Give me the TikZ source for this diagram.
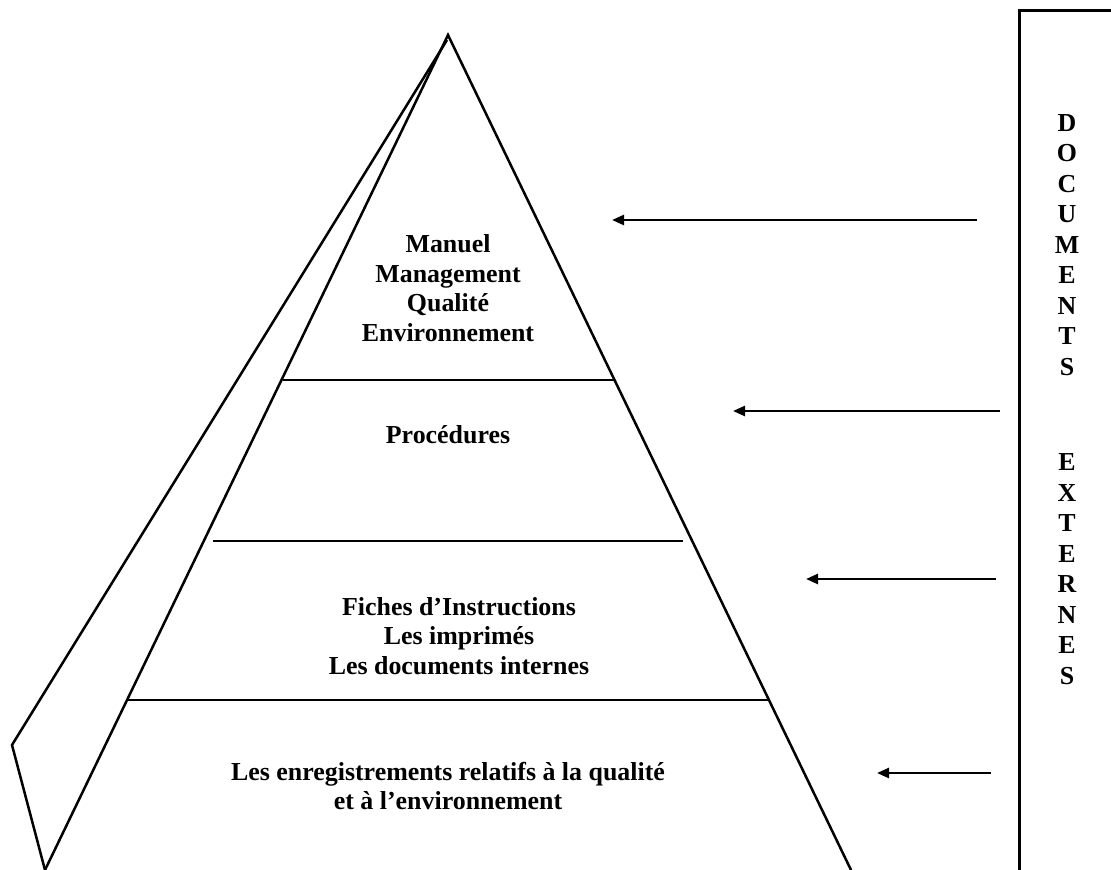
\documentclass[tikz,border=0pt]{standalone}
\usepackage{fontspec}
\setmainfont{Liberation Serif}
\usetikzlibrary{arrows.meta}
\tikzset{
  edge/.style={line width=2.5pt, line join=miter},
  arr/.style={line width=2.5pt, -{Triangle[length=12pt,width=10pt]}},
  lbl/.style={font=\fontsize{25.9}{29.5}\selectfont\bfseries, align=center, inner sep=0pt},
  vlet/.style={font=\fontsize{25.9}{30.5}\selectfont\bfseries, align=center, inner sep=0pt},
}
\begin{document}
\begin{tikzpicture}[x=1pt,y=-1pt]
\useasboundingbox (0,0) rectangle (1111,870);
\clip (0,0) rectangle (1111,870);
% pyramid
\coordinate (apex) at (448,35);
\coordinate (bl) at (45,870);
\coordinate (br) at (851,870);
\coordinate (foldtop) at (447,40);
\coordinate (foldleft) at (12,745);
\coordinate (foldbot) at (45,870);
\draw[edge] (bl) -- (apex) -- (br);
\draw[edge] (foldtop) -- (foldleft) -- (foldbot);
% level lines
\coordinate (l1a) at (283,380); \coordinate (l1b) at (614,380);
\coordinate (l2a) at (213,541); \coordinate (l2b) at (683,541);
\coordinate (l3a) at (128,700); \coordinate (l3b) at (769,700);
\draw[edge] (l1a) -- (l1b);
\draw[edge] (l2a) -- (l2b);
\draw[edge] (l3a) -- (l3b);
% labels
\node[lbl] (t1) at (448,288) {Manuel\\Management\\Qualité\\Environnement};
\node[lbl] (t2) at (448,435) {Procédures};
\node[lbl] (t3) at (459,636) {Fiches d’Instructions\\Les imprimés\\Les documents internes};
\node[lbl] (t4) at (448,786) {Les enregistrements relatifs à la qualité\\et à l’environnement};
% external box
\draw[line width=3pt] (1130,10) -- (1019,10) -- (1019,890);
\node[vlet] (doc) at (1067,245) {D\\O\\C\\U\\M\\E\\N\\T\\S};
\node[vlet] (ext) at (1067,569) {E\\X\\T\\E\\R\\N\\E\\S};
% arrows
\coordinate (a1s) at (977,220); \coordinate (a1e) at (612,220);
\coordinate (a2s) at (1000,411); \coordinate (a2e) at (733,411);
\coordinate (a3s) at (996,579); \coordinate (a3e) at (806,579);
\coordinate (a4s) at (991,773); \coordinate (a4e) at (877,773);
\draw[arr] (a1s) -- (a1e);
\draw[arr] (a2s) -- (a2e);
\draw[arr] (a3s) -- (a3e);
\draw[arr] (a4s) -- (a4e);
\end{tikzpicture}
\end{document}
